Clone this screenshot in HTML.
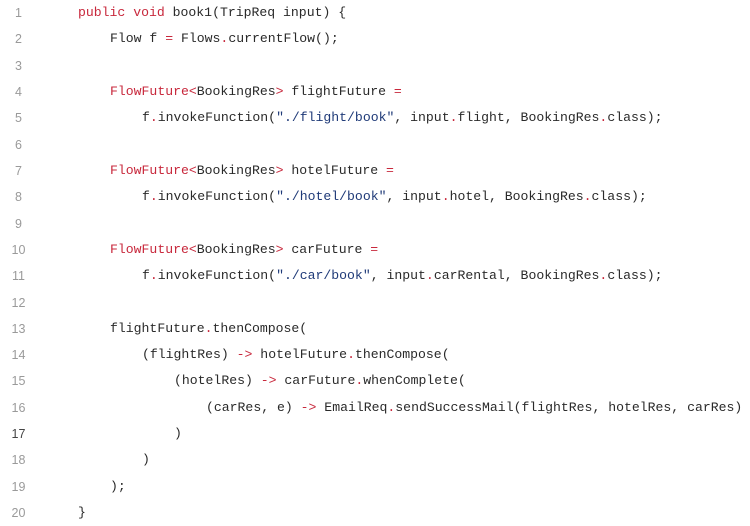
<!DOCTYPE html>
<html><head><meta charset="utf-8"><style>
html,body{margin:0;padding:0;background:#fff;width:750px;height:524px;overflow:hidden}
.l{position:absolute;left:0;height:26px;line-height:26px;font-family:"Liberation Mono",monospace;font-size:13.15px;color:#2a2a2a;white-space:pre}
.n{position:absolute;left:0;width:37px;text-align:center;font-family:"Liberation Sans",sans-serif;font-size:12.5px;color:#9a9a9a;height:26px;line-height:26px}
.k{color:#c8283c}.s{color:#1f3a78}
</style></head><body>
<div id="c"></div>
<script>
const L=[
[0,'<span class="k">public void</span> book1(TripReq input) {'],
[1,'Flow f <span class="k">=</span> Flows<span class="k">.</span>currentFlow();'],
[0,''],
[1,'<span class="k">FlowFuture&lt;</span>BookingRes<span class="k">&gt;</span> flightFuture <span class="k">=</span>'],
[2,'f<span class="k">.</span>invokeFunction(<span class="s">"./flight/book"</span>, input<span class="k">.</span>flight, BookingRes<span class="k">.</span>class);'],
[0,''],
[1,'<span class="k">FlowFuture&lt;</span>BookingRes<span class="k">&gt;</span> hotelFuture <span class="k">=</span>'],
[2,'f<span class="k">.</span>invokeFunction(<span class="s">"./hotel/book"</span>, input<span class="k">.</span>hotel, BookingRes<span class="k">.</span>class);'],
[0,''],
[1,'<span class="k">FlowFuture&lt;</span>BookingRes<span class="k">&gt;</span> carFuture <span class="k">=</span>'],
[2,'f<span class="k">.</span>invokeFunction(<span class="s">"./car/book"</span>, input<span class="k">.</span>carRental, BookingRes<span class="k">.</span>class);'],
[0,''],
[1,'flightFuture<span class="k">.</span>thenCompose('],
[2,'(flightRes) <span class="k">-&gt;</span> hotelFuture<span class="k">.</span>thenCompose('],
[3,'(hotelRes) <span class="k">-&gt;</span> carFuture<span class="k">.</span>whenComplete('],
[4,'(carRes, e) <span class="k">-&gt;</span> EmailReq<span class="k">.</span>sendSuccessMail(flightRes, hotelRes, carRes)'],
[3,')'],
[2,')'],
[1,');'],
[0,'}']
];
let h='';
L.forEach((r,i)=>{const y=Math.round(i*26.32);
h+=`<div class="n" style="top:${y}px${i==16?';color:#444':''}">${i+1}</div><div class="l" style="top:${y}px;left:${78+r[0]*32}px">${r[1]}</div>`;});
document.getElementById('c').innerHTML=h;
</script>
</body></html>
